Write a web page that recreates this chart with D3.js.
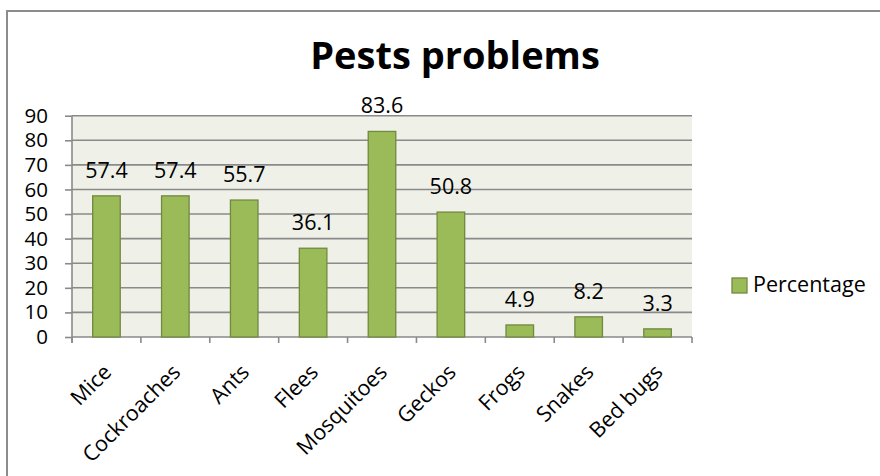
<!DOCTYPE html>
<html>
<head>
<meta charset="utf-8">
<script src="https://cdn.jsdelivr.net/npm/d3@7"></script>
<style>
  html, body { margin: 0; padding: 0; background: #fff; }
  svg { display: block; font-family: "Open Sans", sans-serif; }
</style>
</head>
<body>
<svg id="chart" width="880" height="476"></svg>
<script>
// Pest survey: share of respondents reporting each pest (%)
const categories = ["Mice", "Cockroaches", "Ants", "Flees", "Mosquitoes", "Geckos", "Frogs", "Snakes", "Bed bugs"];
const percentage = [57.4, 57.4, 55.7, 36.1, 83.6, 50.8, 4.9, 8.2, 3.3];
const yTicks = [0, 10, 20, 30, 40, 50, 60, 70, 80, 90];
const seriesName = "Percentage";
const chartTitle = "Pests problems";

const svg = d3.select("#chart");

// chart frame (runs past the right and bottom edges)
svg.append("rect")
  .attr("x", 7).attr("y", 11)
  .attr("width", 920).attr("height", 520)
  .attr("fill", "#fff")
  .attr("stroke", "#8c8c8c").attr("stroke-width", 2);

const plot = { left: 72, right: 692, top: 115.7, bottom: 337 };

const x = d3.scaleBand()
  .domain(categories)
  .range([plot.left, plot.right])
  .paddingInner(0.6)
  .paddingOuter(0.3);

const xEdges = d3.scaleLinear()
  .domain([0, categories.length])
  .range([plot.left, plot.right]);

const y = d3.scaleLinear()
  .domain([0, 90])
  .range([plot.bottom, plot.top]);

// plot background
svg.append("rect")
  .attr("x", plot.left).attr("y", plot.top)
  .attr("width", plot.right - plot.left)
  .attr("height", plot.bottom - plot.top)
  .attr("fill", "#eff1e8");

// horizontal gridlines
svg.append("g")
  .selectAll("line")
  .data(yTicks.filter(d => d > 0))
  .join("line")
  .attr("x1", plot.left).attr("x2", plot.right)
  .attr("y1", d => y(d)).attr("y2", d => y(d))
  .attr("stroke", "#8a8a8a").attr("stroke-width", 1.6);

// y axis
const yAxis = svg.append("g")
  .attr("transform", `translate(${plot.left},0)`)
  .call(d3.axisLeft(y).tickValues(yTicks).tickSize(7).tickPadding(17).tickFormat(d3.format("d")));
yAxis.select(".domain").attr("stroke", "#8a8a8a").attr("stroke-width", 1.6)
  .attr("d", `M0,${plot.top}V${plot.bottom + 6}`);
yAxis.selectAll(".tick line").attr("stroke", "#8a8a8a").attr("stroke-width", 1.6);
yAxis.selectAll(".tick text")
  .attr("font-size", 20.5).attr("fill", "#000")
  .attr("font-family", "'Open Sans', sans-serif");

// x axis line with tick marks at category boundaries
const xAxisG = svg.append("g");
xAxisG.append("line")
  .attr("x1", plot.left).attr("x2", plot.right)
  .attr("y1", plot.bottom).attr("y2", plot.bottom)
  .attr("stroke", "#8a8a8a").attr("stroke-width", 1.6);
xAxisG.selectAll("line.tick")
  .data(d3.range(categories.length + 1))
  .join("line")
  .attr("class", "tick")
  .attr("x1", d => xEdges(d)).attr("x2", d => xEdges(d))
  .attr("y1", plot.bottom).attr("y2", plot.bottom + 6)
  .attr("stroke", "#8a8a8a").attr("stroke-width", 1.6);

// bars
svg.append("g")
  .selectAll("rect")
  .data(categories)
  .join("rect")
  .attr("x", d => x(d))
  .attr("y", (d, i) => y(percentage[i]))
  .attr("width", x.bandwidth())
  .attr("height", (d, i) => y(0) - y(percentage[i]))
  .attr("fill", "#9bbb59")
  .attr("stroke", "#71893f").attr("stroke-width", 1.3);

// value labels
svg.append("g")
  .selectAll("text")
  .data(categories)
  .join("text")
  .attr("x", d => x(d) + x.bandwidth() / 2)
  .attr("y", (d, i) => y(percentage[i]) - 18)
  .attr("text-anchor", "middle")
  .attr("font-size", 21.5)
  .attr("fill", "#000")
  .text((d, i) => percentage[i].toFixed(1));

// rotated category labels
svg.append("g")
  .selectAll("text")
  .data(categories)
  .join("text")
  .attr("transform", d => `translate(${x(d) + x.bandwidth() / 2 - 5},${plot.bottom + 25}) rotate(-45)`)
  .attr("text-anchor", "end")
  .attr("dy", "0.75em")
  .attr("font-size", 21.5)
  .attr("fill", "#000")
  .text(d => d);

// title
svg.append("text")
  .attr("x", 455).attr("y", 69)
  .attr("text-anchor", "middle")
  .attr("font-size", 38)
  .attr("font-weight", "bold")
  .attr("fill", "#000")
  .text(chartTitle);

// legend
const legend = svg.append("g").attr("transform", "translate(732,278)");
legend.append("rect")
  .attr("width", 15).attr("height", 15)
  .attr("fill", "#9bbb59")
  .attr("stroke", "#71893f").attr("stroke-width", 1.3);
legend.append("text")
  .attr("x", 21).attr("y", 14)
  .attr("font-size", 21.5)
  .attr("fill", "#000")
  .text(seriesName);
</script>
</body>
</html>
